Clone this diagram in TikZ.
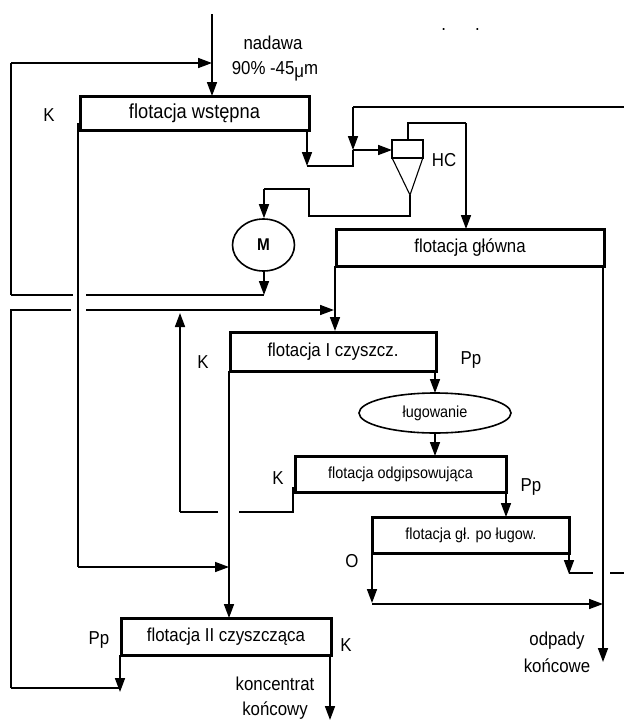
\documentclass[tikz,border=0pt]{standalone}
\usepackage{fontspec}
\setmainfont[FakeStretch=0.9]{Liberation Sans}
\usetikzlibrary{arrows.meta,shapes.geometric}
\tikzset{
  lbl/.style={inner sep=0pt, font=\fontsize{18.7}{21}\selectfont},
  flotbox/.style={draw, line width=3pt, inner sep=0pt, outer sep=0pt, font=\fontsize{18.7}{21}\selectfont},
  flotsmall/.style={flotbox, font=\fontsize{16}{19}\selectfont},
  flow/.style={line width=1.6pt},
  flowto/.style={line width=1.6pt, -{Triangle[length=14pt,width=10pt]}},
}
\begin{document}
\begin{tikzpicture}[x=1pt, y=-1pt]
\useasboundingbox (0,0) rectangle (624,721);
% process boxes
\node[flotbox, minimum width=229pt, minimum height=34pt, font=\fontsize{20.3}{22}\selectfont] (wstepna) at (194.5,113) {flotacja wstępna};
\node[flotbox, minimum width=268pt, minimum height=37pt] (glowna) at (470,247.5) {flotacja główna};
\node[flotbox, minimum width=206pt, minimum height=39pt] (czysz) at (333,351.5) {flotacja I czyszcz.};
\node[flotsmall, line width=1.6pt, ellipse, minimum width=152pt, minimum height=40pt] (lug) at (435,413) {ługowanie};
\node[flotsmall, minimum width=211pt, minimum height=36pt] (odgips) at (400.5,474) {flotacja odgipsowująca};
\node[flotsmall, minimum width=197pt, minimum height=36pt] (polug) at (471,535) {flotacja gł. po ługow.};
\node[flotbox, minimum width=210pt, minimum height=37pt] (czyszII) at (226,636.5) {flotacja II czyszcząca};
\node[draw, line width=1.6pt, ellipse, minimum width=62pt, minimum height=52pt, inner sep=0pt,
  font=\bfseries\fontsize{17}{19}\selectfont] (M) at (263.5,245) {M};
% hydrocyclone
\node[draw, line width=1.6pt, minimum width=30.5pt, minimum height=18.5pt, inner sep=0pt, outer sep=0pt] (HC) at (407.5,149) {};
\coordinate (apex) at (410,195);
\draw[line width=1.1pt] (HC.south west) -- (apex) -- (HC.south east);
% labels
\node[lbl] (nadawa) at (273,43) {nadawa};
\node[lbl] (feedsize) at (275,71) {90\% -45\raisebox{-3pt}{μ}m};
\node[lbl] (Kw) at (49,115) {K};
\node[lbl] (hclabel) at (444,160) {HC};
\node[lbl] (Kc) at (203,362) {K};
\node[lbl] (Ppc) at (471,360) {Pp};
\node[lbl] (Ko) at (278,478) {K};
\node[lbl] (Ppo) at (531,487) {Pp};
\node[lbl] (Op) at (352,561) {O};
\node[lbl] (Ppk) at (99,640) {Pp};
\node[lbl] (Kk) at (346,645) {K};
\node[lbl] (koncentrat) at (275,684) {koncentrat};
\node[lbl] (koncowy) at (275,711) {końcowy};
\node[lbl] (odpady) at (557,641) {odpady};
\node[lbl] (koncowe) at (557,666) {końcowe};
\node[lbl] (kropki) at (460.5,29) {.\hspace{29pt}.};
% junctions and free ends
\coordinate (feedtop) at (212,14);
\coordinate (feedin) at (212,96);
\coordinate (rectop) at (11,63);
\coordinate (recin) at (212,63);
\coordinate (recbot) at (11,295);
\coordinate (recgapL) at (73,295);
\coordinate (recgapR) at (86,295);
\coordinate (recM) at (264,295);
\coordinate (secL) at (11,310);
\coordinate (secgapL) at (71,310);
\coordinate (secgapR) at (86,310);
\coordinate (secin) at (334,310);
\coordinate (secend) at (11,688);
\coordinate (wK) at (78,123);
\coordinate (wKbot) at (78,567);
\coordinate (wKin) at (229,567);
\coordinate (wout) at (307,166);
\coordinate (mix) at (353,166);
\coordinate (retR) at (624,107);
\coordinate (retL) at (353,107);
\coordinate (retin) at (353,150);
\coordinate (hcin) at (392,150);
\coordinate (ovA) at (408,123);
\coordinate (ovB) at (466,123);
\coordinate (unA) at (410,216);
\coordinate (unB) at (309,216);
\coordinate (unC) at (309,189);
\coordinate (unD) at (264,189);
\coordinate (oK) at (293,487);
\coordinate (oKb) at (293,512);
\coordinate (oKgapR) at (239,512);
\coordinate (oKgapL) at (218,512);
\coordinate (oKc) at (180,512);
\coordinate (oKtop) at (180,313);
\coordinate (waste) at (603,662);
\coordinate (wasteIn) at (603,604);
\coordinate (Oin) at (372,604);
\coordinate (Otip) at (372,603);
\coordinate (glin) at (335,331);
\coordinate (pfall) at (569,574);
\coordinate (pgapL) at (593,573);
\coordinate (pgapR) at (610,573);
\coordinate (pR) at (624,573);
\coordinate (ppk) at (120,692);
\coordinate (conc) at (330,720);
% flows
\draw[flowto] (feedtop) -- (feedin);
\draw[flow] (recbot) -- (rectop);
\draw[flowto] (rectop) -- (recin);
\draw[flow] (recbot) -- (recgapL);
\draw[flow] (recgapR) -- (recM);
\draw[flowto] (recM |- M.south) -- (recM);
\draw[flow] (secend) -- (secL) -- (secgapL);
\draw[flowto] (secgapR) -- (secin);
\draw[flow] (wK) -- (wKbot);
\draw[flowto] (wKbot) -- (wKin);
\draw[flowto] (wout |- wstepna.south) -- (wout);
\draw[flow] (wout) -- (mix) -- (retin);
\draw[flow] (retR) -- (retL);
\draw[flowto] (retL) -- (retin);
\draw[flowto] (retin) -- (hcin);
\draw[flow] (ovA |- HC.north) -- (ovA) -- (ovB);
\draw[flowto] (ovB) -- (ovB |- glowna.north);
\draw[flow] (apex) -- (unA) -- (unB) -- (unC) -- (unD);
\draw[flowto] (unD) -- (unD |- M.north);
\draw[flowto] (glin |- glowna.south) -- (glin);
\draw[flow] (wasteIn |- glowna.south) -- (wasteIn);
\draw[flowto] (wasteIn) -- (waste);
\draw[flowto] (lug.north |- czysz.south) -- (lug.north);
\draw[flowto] (lug.south) -- (odgips.north -| lug.south);
\draw[flow] (oK) -- (oKb) -- (oKgapR);
\draw[flow] (oKgapL) -- (oKc);
\draw[flowto] (oKc) -- (oKtop);
\draw[flowto] (odgips.south east) -- (polug.north -| odgips.south east);
\draw[flowto] (Otip |- polug.south) -- (Otip);
\draw[flowto] (Oin) -- (wasteIn);
\draw[flowto] (pfall |- polug.south) -- (pfall);
\draw[flow] (pfall |- pgapL) -- (pgapL);
\draw[flow] (pgapR) -- (pR);
\draw[flowto] (wKin |- czysz.south) -- (wKin |- czyszII.north);
\draw[flowto] (ppk |- czyszII.south) -- (ppk);
\draw[flow] (secend) -- (ppk |- secend);
\draw[flowto] (conc |- czyszII.south) -- (conc);
\end{tikzpicture}
\end{document}
